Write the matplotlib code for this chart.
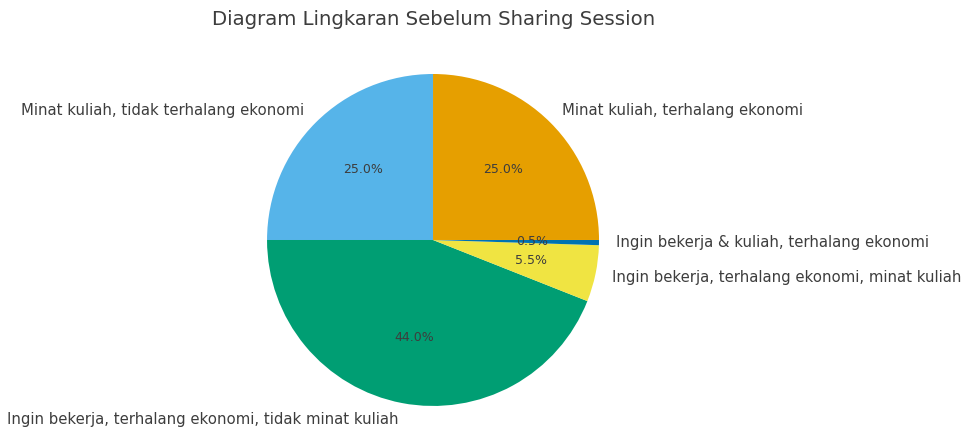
import matplotlib.pyplot as plt

labels = [
    "Minat kuliah, tidak terhalang ekonomi",
    "Ingin bekerja, terhalang ekonomi, tidak minat kuliah",
    "Ingin bekerja, terhalang ekonomi, minat kuliah",
    "Ingin bekerja & kuliah, terhalang ekonomi",
    "Minat kuliah, terhalang ekonomi",
]
shares = [25.0, 44.0, 5.5, 0.5, 25.0]
colors = ["#56B4E9", "#009E73", "#F0E442", "#0072B2", "#E69F00"]

text_color = "#3d3d3d"

fig = plt.figure(figsize=(9.61, 4.29), dpi=100)
ax = fig.add_axes([0.2347, -0.0431, 0.4318, 0.9674])

wedges, texts, autotexts = ax.pie(
    shares, labels=labels, colors=colors, autopct="%1.1f%%", startangle=90,
    textprops={"color": text_color, "fontsize": 10.7},
)
for t in autotexts:
    t.set_fontsize(9)
ax.set_aspect("equal")

fig.text(0.4511, 0.955, "Diagram Lingkaran Sebelum Sharing Session",
         ha="center", va="center", fontsize=14.25, color=text_color)

fig.savefig("out.png", dpi=100)
